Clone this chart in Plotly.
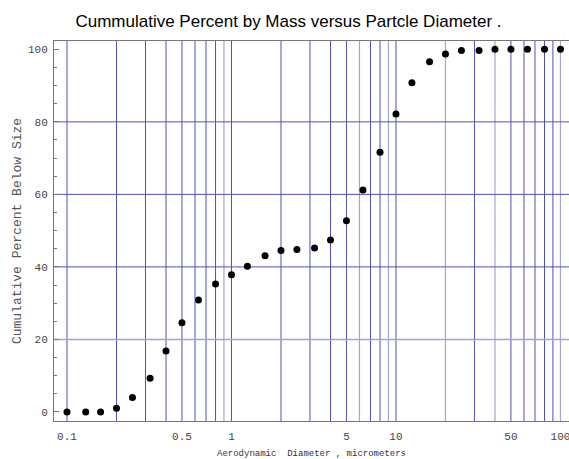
import plotly.graph_objects as go

# Data
diameter_um = [0.1, 0.13, 0.16, 0.2, 0.25, 0.32, 0.4, 0.5, 0.63, 0.8,
               1.0, 1.25, 1.6, 2.0, 2.5, 3.2, 4.0, 5.0, 6.3, 8.0,
               10.0, 12.5, 16.0, 20.0, 25.0, 32.0, 40.0, 50.0, 63.0, 80.0, 100.0]
cum_percent = [0.0, 0.0, 0.0, 1.0, 4.0, 9.3, 16.8, 24.6, 30.9, 35.3,
               37.8, 40.2, 43.1, 44.5, 44.8, 45.2, 47.4, 52.7, 61.2, 71.6,
               82.2, 90.8, 96.6, 98.7, 99.7, 99.7, 100.0, 100.0, 100.0, 100.0, 100.0]

x_tick_vals = [0.1, 0.5, 1, 5, 10, 50, 100]
x_tick_text = ["0.1", "0.5", "1", "5", "10", "50", "100"]
y_tick_vals = [0, 20, 40, 60, 80, 100]

grid_x_dark = [0.1, 0.2, 0.3, 0.4, 0.5, 0.6, 0.7, 0.8, 1, 2, 3, 4, 5, 7, 8, 10,
               30, 50, 60, 70, 80, 90]
grid_x_light = [0.9, 6, 9, 20, 40, 100]
grid_y_dark = [40, 60, 80]
grid_y_light = [20]

DARK = "#5050b8"
LIGHT = "#a4a4d6"

fig = go.Figure()
fig.add_trace(go.Scatter(
    x=diameter_um, y=cum_percent, mode="markers",
    marker=dict(color="black", size=7),
    showlegend=False, cliponaxis=False,
))

shapes = []
for v in grid_x_dark:
    shapes.append(dict(type="line", xref="x", yref="paper", x0=v, x1=v, y0=0, y1=1,
                       line=dict(color=DARK, width=1), layer="below"))
for v in grid_x_light:
    shapes.append(dict(type="line", xref="x", yref="paper", x0=v, x1=v, y0=0, y1=1,
                       line=dict(color=LIGHT, width=1.2), layer="below"))
for v in grid_y_dark:
    shapes.append(dict(type="line", xref="paper", yref="y", x0=0, x1=1, y0=v, y1=v,
                       line=dict(color=DARK, width=1), layer="below"))
for v in grid_y_light:
    shapes.append(dict(type="line", xref="paper", yref="y", x0=0, x1=1, y0=v, y1=v,
                       line=dict(color=LIGHT, width=1.5), layer="below"))

tick_font = dict(family="Liberation Mono", size=11, color="#444444")

fig.update_layout(
    width=569, height=459,
    margin=dict(l=54, r=0, t=41, b=38, autoexpand=False),
    paper_bgcolor="white", plot_bgcolor="white",
    shapes=shapes,
    title=dict(text="Cummulative Percent by Mass versus Partcle Diameter .",
               x=288.5 / 569, xanchor="center", y=1 - 21 / 459, yanchor="middle",
               font=dict(family="Liberation Sans", size=17, color="black")),
    xaxis=dict(
        type="log", range=[-1.079, 2.052], automargin=False,
        tickvals=x_tick_vals, ticktext=x_tick_text,
        showgrid=False, zeroline=False,
        showline=True, linecolor="#777777", linewidth=1, mirror=True,
        ticks="", tickfont=tick_font, ticklabeloverflow="allow",
        ticklabelstandoff=5,
        title=dict(text="Aerodynamic  Diameter , micrometers",
                   font=dict(family="Liberation Mono", size=9, color="#333333"),
                   standoff=7),
    ),
    yaxis=dict(
        range=[-2.5, 102.3], automargin=False,
        tickvals=y_tick_vals,
        showgrid=False, zeroline=False,
        showline=True, linecolor="#777777", linewidth=1,
        ticks="inside", ticklen=5, tickcolor="#777777",
        minor=dict(dtick=5, ticks="inside", ticklen=3, tickcolor="#777777"),
        tickfont=tick_font, ticklabelstandoff=3,
        title=dict(text="Cumulative Percent Below Size",
                   font=dict(family="Liberation Mono", size=13, color="#555555"),
                   standoff=3),
    ),
)

fig.write_html("out.html", config={"displayModeBar": False},
               post_script="document.body.style.margin='0';")
